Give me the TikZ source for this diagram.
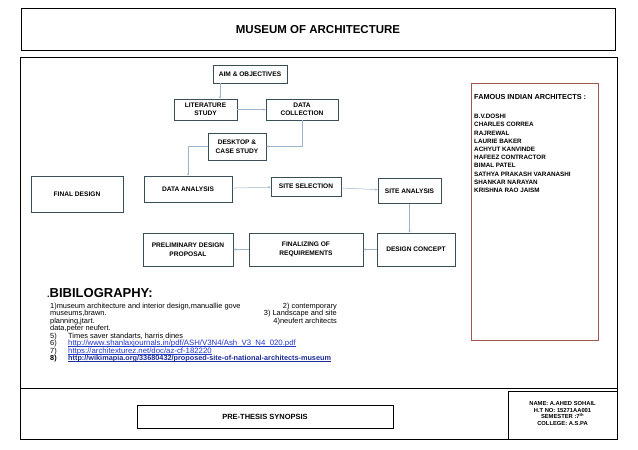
\documentclass[tikz,border=0pt]{standalone}
\usepackage{fontspec}
\setmainfont{Liberation Sans}
\usetikzlibrary{positioning,arrows.meta}
\definecolor{boxline}{HTML}{3A4D5A}
\definecolor{arrowline}{HTML}{9FB4C8}
\definecolor{famousline}{HTML}{A0584E}
\definecolor{linkblue}{HTML}{2438C8}
\definecolor{linkdark}{HTML}{1C2C98}
\tikzset{
  flow/.style={draw=boxline, line width=0.6pt, align=center, inner sep=1pt,
    font=\bfseries\fontsize{6.6}{8.5}\selectfont},
  link/.style={-{Stealth[length=2.4pt,width=2.4pt]}, draw=arrowline, line width=0.5pt},
  frame/.style={draw=black, line width=0.8pt},
  bib/.style={anchor=base west, inner sep=0pt, font=\fontsize{7.4}{8}\selectfont},
  bibr/.style={anchor=base east, inner sep=0pt, font=\fontsize{7.4}{8}\selectfont},
  url/.style={anchor=base west, inner sep=0pt, text=linkblue, font=\fontsize{7.8}{8}\selectfont},
  uline/.style={line width=0.4pt}
}
\begin{document}
\begin{tikzpicture}[x=1pt, y=-1pt]
\useasboundingbox (0,0) rectangle (638,450);

% frames
\draw[frame] (21,8) rectangle (615,50);
\node[font=\bfseries\fontsize{11.5}{12}\selectfont] (title) at (318,29.5) {MUSEUM OF ARCHITECTURE};
\draw[frame] (20,57) rectangle (617,439);
\draw[frame] (20,388) -- (617,388);

% flow chart
\node[flow, minimum width=74pt, minimum height=18pt] (aim) at (250,74) {AIM \& OBJECTIVES};
\node[flow, minimum width=63pt, minimum height=21pt] (lit) at (205.5,109.5) {LITERATURE\\STUDY};
\node[flow, minimum width=72pt, minimum height=21pt] (coll) at (302,109.5) {DATA\\COLLECTION};
\node[flow, minimum width=58pt, minimum height=27pt] (desk) at (237,146.5) {DESKTOP \&\\CASE STUDY};
\node[flow, minimum width=92pt, minimum height=36pt] (final) at (77,194) {FINAL DESIGN};
\node[flow, minimum width=88pt, minimum height=26pt] (anal) at (188,189) {DATA ANALYSIS};
\node[flow, minimum width=70pt, minimum height=19pt] (sel) at (306,186.5) {SITE SELECTION};
\node[flow, minimum width=63pt, minimum height=25pt] (site) at (409.5,191) {SITE ANALYSIS};
\node[flow, minimum width=90pt, minimum height=33pt] (prelim) at (188,249.5) {PRELIMINARY DESIGN\\PROPOSAL};
\node[flow, minimum width=114pt, minimum height=33pt] (req) at (306,249.5) {FINALIZING OF\\REQUIREMENTS};
\node[flow, minimum width=78pt, minimum height=33pt] (concept) at (416,249.5) {DESIGN CONCEPT};

\draw[link] ([xshift=-30pt]aim.south) -- ([xshift=-30pt]aim.south |- lit.north);
\draw[link] (lit) -- (coll);
\draw[link] (coll.south) |- (desk.east);
\draw[link] (desk.west) -| (anal.north);
\draw[link] (anal) -- (sel);
\draw[link] (sel) -- (site);
\draw[link] (site.south) -- (site.south |- concept.north);
\draw[link] (concept) -- (req);
\draw[link] (req) -- (prelim);

% famous architects
\draw[draw=famousline, line width=0.5pt] (471,83) rectangle (598,340);
\node[anchor=north west, inner sep=0pt, font=\bfseries\fontsize{7.3}{8}\selectfont] (famous) at (474,94) {FAMOUS INDIAN ARCHITECTS :};
\node[anchor=north west, inner sep=0pt, align=left, font=\bfseries\fontsize{6.3}{8.2}\selectfont] (names) at (474,114)
  {B.V.DOSHI\\CHARLES CORREA\\RAJREWAL\\LAURIE BAKER\\ACHYUT KANVINDE\\HAFEEZ CONTRACTOR\\BIMAL PATEL\\SATHYA PRAKASH VARANASHI\\SHANKAR NARAYAN\\KRISHNA RAO JAISM};

% bibliography
\node[anchor=base west, inner sep=0pt, font=\bfseries\fontsize{13}{14}\selectfont] (bibhead) at (47,297)
  {\fontsize{9}{10}\selectfont.\fontsize{13}{14}\selectfont BIBILOGRAPHY:};
\node[bib] (b1) at (50,308) {1)museum architecture and interior design,manuallie gove};
\node[bibr] (b1r) at (337,308) {2) contemporary};
\node[bib] (b2) at (50,315.5) {museums,brawn.};
\node[bibr] (b2r) at (337,315.5) {3) Landscape and site};
\node[bib] (b3) at (50,323) {planning,jtart.};
\node[bibr] (b3r) at (337,323) {4)neufert architects};
\node[bib] (b4) at (50,330.5) {data,peter neufert.};
\node[bib] (n5) at (50,338) {5)};
\node[bib] (b5) at (68,338) {Times saver standarts, harris dines};
\node[bib] (n6) at (50,345.5) {6)};
\node[url] (b6) at (68,345.5) {http://www.shanlaxjournals.in/pdf/ASH/V3N4/Ash\_V3\_N4\_020.pdf};
\node[bib] (n7) at (50,353) {7)};
\node[url] (b7) at (68,353) {https://architexturez.net/doc/az-cf-182220};
\node[bib, font=\bfseries\fontsize{7.3}{8}\selectfont] (n8) at (50,360.5) {8)};
\node[url, text=linkdark, font=\bfseries\fontsize{7.3}{8}\selectfont] (b8) at (68,360.5) {http://wikimapia.org/33680432/proposed-site-of-national-architects-museum};
% link underlines
\draw[uline, linkblue] ([yshift=-1pt]b6.base west) -- ([yshift=-1pt]b6.base east);
\draw[uline, linkblue] ([yshift=-1pt]b7.base west) -- ([yshift=-1pt]b7.base east);
\draw[uline, linkdark, line width=0.5pt] ([yshift=-1pt]b8.base west) -- ([yshift=-1pt]b8.base east);

% bottom strip
\node[draw=black, line width=0.8pt, minimum width=256pt, minimum height=23pt,
  font=\bfseries\fontsize{7.5}{8}\selectfont] (synopsis) at (265,416.5) {PRE-THESIS SYNOPSIS};
\draw[frame] (508,391) rectangle (617,439);
\node[align=center, inner sep=0pt, font=\bfseries\fontsize{5.8}{6.8}\selectfont] (student) at (562.5,413.5)
  {NAME: A.AHED SOHAIL\\H.T NO: 15271AA001\\SEMESTER :7\textsuperscript{th}\\COLLEGE: A.S.PA};
\end{tikzpicture}
\end{document}
